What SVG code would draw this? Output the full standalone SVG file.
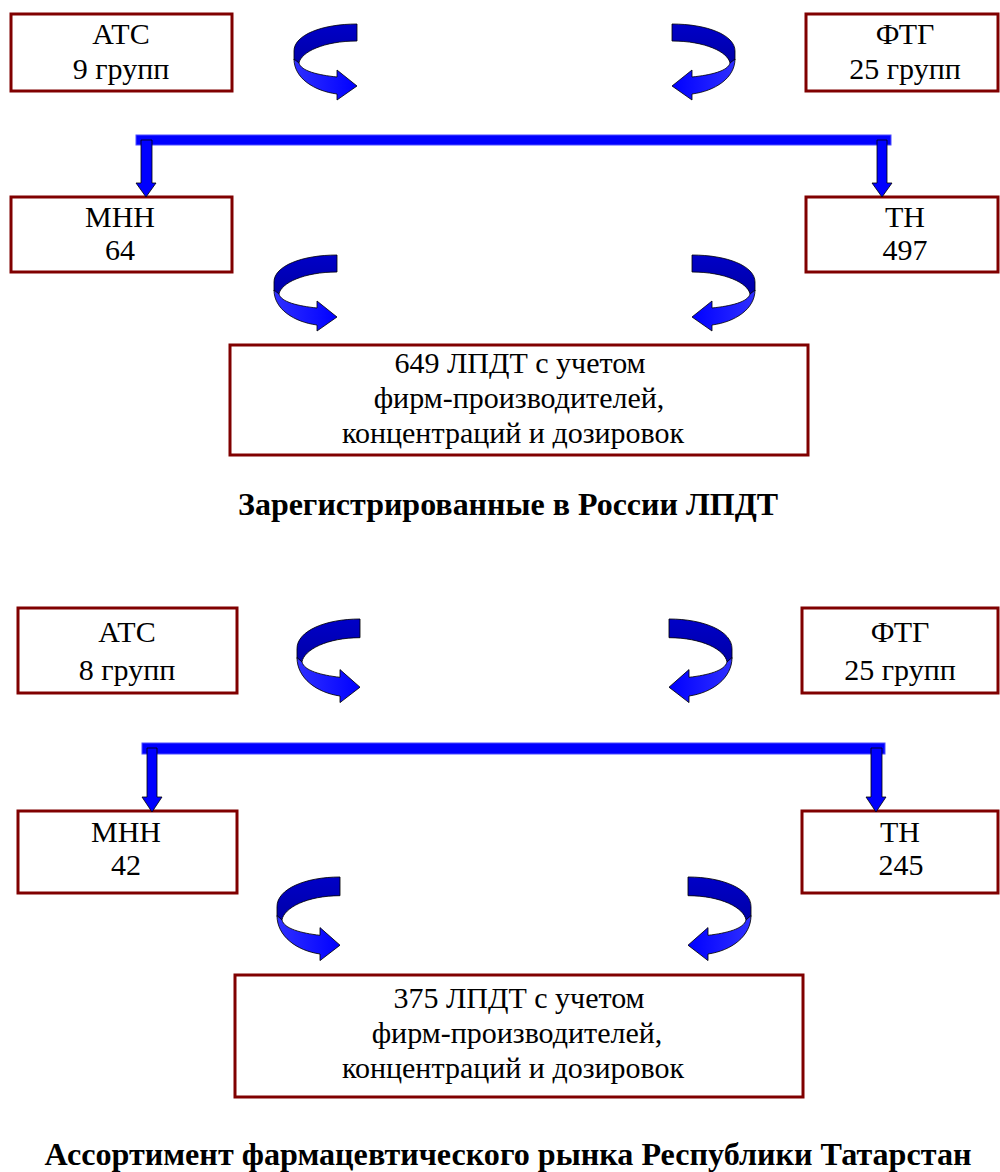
<svg xmlns="http://www.w3.org/2000/svg" xmlns:xlink="http://www.w3.org/1999/xlink" width="1000" height="1172" viewBox="0 0 1000 1172">
<style>
.box{fill:#fff;stroke:#800000;stroke-width:3}
.t{font-size:30px;fill:#000;text-anchor:middle}
.cap{font-size:32px;font-weight:bold;fill:#000;text-anchor:middle}
.bar{fill:#0000ff;stroke:#4d4dff;stroke-width:1}
.down{fill:#0000ff;stroke:#000;stroke-width:0.8}
.back{fill:url(#gBack);stroke:#000;stroke-width:0.8}
.front{fill:url(#gFront);stroke:#000;stroke-width:0.8}
</style>
<defs>
<linearGradient id="gBack" x1="0" y1="0" x2="0" y2="1">
<stop offset="0" stop-color="#0000c8"/><stop offset="1" stop-color="#0000a8"/>
</linearGradient>
<linearGradient id="gFront" x1="0" y1="0" x2="1" y2="0">
<stop offset="0" stop-color="#2f2fff"/><stop offset="1" stop-color="#0000ff"/>
</linearGradient>
<g id="curl">
<path class="back" d="M63,0 C28,0 0,11 0,27 L0,36 L5,39 C7,28 30,17 63,17 Z"/>
<path class="front" d="M0,35 C0,54 20,67 43,70 L43,76 L63,62 L43,46 L43,53 C24,51 7,47 5,39 Z"/>
</g>
</defs>

<g font-family="Liberation Serif, Times New Roman, serif">
<g id="atc1"><rect class="box" x="11" y="14" width="221" height="77"/><text class="t" x="121" y="44">АТС</text><text class="t" x="121" y="79">9 групп</text></g>
<g id="ftg1"><rect class="box" x="806" y="14" width="192" height="77"/><text class="t" x="905" y="44">ФТГ</text><text class="t" x="905" y="79">25 групп</text></g>
<g id="mnn1"><rect class="box" x="11" y="197" width="221" height="75"/><text class="t" x="120" y="227">МНН</text><text class="t" x="120" y="260">64</text></g>
<g id="tn1"><rect class="box" x="806" y="197" width="192" height="75"/><text class="t" x="905" y="227">ТН</text><text class="t" x="905" y="260">497</text></g>
<g id="lpdt1"><rect class="box" x="230" y="345" width="578" height="110"/>
<text class="t" x="520" y="373">649 ЛПДТ с учетом</text>
<text class="t" x="519" y="408">фирм-производителей,</text>
<text class="t" x="513" y="443">концентраций и дозировок</text></g>
<g id="caption1"><text class="cap" x="508" y="515" textLength="540" lengthAdjust="spacingAndGlyphs">Зарегистрированные в России ЛПДТ</text></g>

<g id="atc2"><rect class="box" x="18" y="608" width="219" height="85"/><text class="t" x="127" y="642">АТС</text><text class="t" x="127" y="680">8 групп</text></g>
<g id="ftg2"><rect class="box" x="802" y="608" width="196" height="85"/><text class="t" x="900" y="642">ФТГ</text><text class="t" x="900" y="680">25 групп</text></g>
<g id="mnn2"><rect class="box" x="18" y="811" width="219" height="82"/><text class="t" x="126" y="842">МНН</text><text class="t" x="126" y="875">42</text></g>
<g id="tn2"><rect class="box" x="802" y="811" width="196" height="82"/><text class="t" x="900" y="842">ТН</text><text class="t" x="901" y="875">245</text></g>
<g id="lpdt2"><rect class="box" x="235" y="975" width="568" height="122"/>
<text class="t" x="519" y="1008">375 ЛПДТ с учетом</text>
<text class="t" x="517" y="1043">фирм-производителей,</text>
<text class="t" x="513" y="1078">концентраций и дозировок</text></g>
<g id="caption2"><text class="cap" x="508" y="1165" textLength="927" lengthAdjust="spacingAndGlyphs">Ассортимент фармацевтического рынка Республики Татарстан</text></g>
</g>

<g id="connectors">
<use xlink:href="#curl" transform="translate(294,24)"/>
<use xlink:href="#curl" transform="translate(735,24) scale(-1,1)"/>
<use xlink:href="#curl" transform="translate(274,255)"/>
<use xlink:href="#curl" transform="translate(755,255) scale(-1,1)"/>
<rect class="bar" x="136" y="135" width="755" height="10"/>
<path class="down" d="M141,140 L152,140 L152,183 L156,183 L146,197 L136,183 L141,183 Z"/>
<path class="down" d="M877,140 L887,140 L887,183 L892,183 L882,197 L872,183 L877,183 Z"/>
<use xlink:href="#curl" transform="translate(297,619) scale(1,1.1)"/>
<use xlink:href="#curl" transform="translate(732,619) scale(-1,1.1)"/>
<use xlink:href="#curl" transform="translate(277,877) scale(1,1.1)"/>
<use xlink:href="#curl" transform="translate(751,877) scale(-1,1.1)"/>
<rect class="bar" x="142" y="743" width="743" height="11"/>
<path class="down" d="M147,748 L157,748 L157,797 L162,797 L152,812 L142,797 L147,797 Z"/>
<path class="down" d="M871,748 L882,748 L882,797 L886,797 L876,812 L866,797 L871,797 Z"/>
</g>
</svg>
